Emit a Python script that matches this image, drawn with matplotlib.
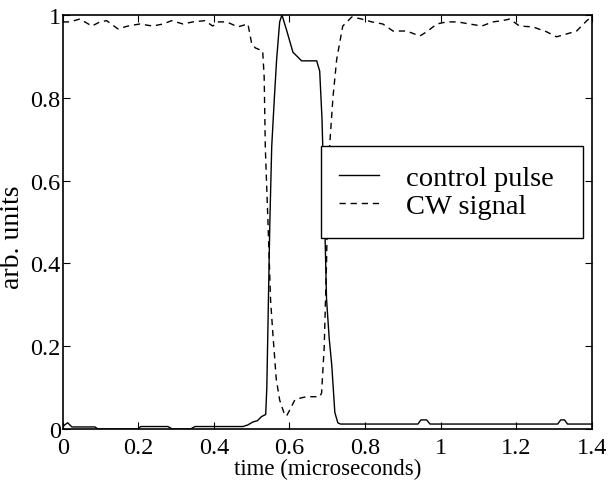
import matplotlib
matplotlib.use("Agg")
import matplotlib.pyplot as plt

plt.rcParams['font.family'] = ['Liberation Serif', 'DejaVu Serif']

# control pulse (solid)
t_pulse = [0.0, 0.005, 0.013, 0.024, 0.085, 0.093, 0.199, 0.206, 0.278, 0.29,
           0.338, 0.35, 0.477, 0.49, 0.503, 0.515, 0.526, 0.537, 0.540, 0.544,
           0.548, 0.553, 0.560, 0.566, 0.574, 0.580, 0.593, 0.609, 0.632, 0.672,
           0.680, 0.686, 0.692, 0.698, 0.705, 0.712, 0.720, 0.728, 0.735, 0.940,
           0.948, 0.963, 0.972, 1.31, 1.318, 1.328, 1.336, 1.4]
pulse = [0.005, 0.01, 0.015, 0.005, 0.005, 0.0, 0.0, 0.006, 0.006, 0.0,
         0.0, 0.006, 0.006, 0.01, 0.017, 0.02, 0.03, 0.035, 0.10, 0.30,
         0.50, 0.683, 0.80, 0.893, 0.983, 1.0, 0.961, 0.91, 0.889, 0.889,
         0.864, 0.75, 0.55, 0.315, 0.22, 0.153, 0.04, 0.015, 0.012, 0.012,
         0.022, 0.022, 0.012, 0.012, 0.022, 0.022, 0.012, 0.012]

# CW signal (dashed)
t_cw = [0.0, 0.019, 0.045, 0.077, 0.098, 0.116, 0.146, 0.172, 0.204, 0.238,
        0.265, 0.288, 0.318, 0.344, 0.376, 0.397, 0.410, 0.434, 0.463, 0.490,
        0.500, 0.510, 0.529, 0.533, 0.536, 0.543, 0.550, 0.556, 0.565, 0.574,
        0.585, 0.592, 0.603, 0.614, 0.630, 0.645, 0.680, 0.685, 0.692, 0.698,
        0.702, 0.706, 0.715, 0.725, 0.741, 0.765, 0.791, 0.818, 0.847, 0.874,
        0.910, 0.945, 0.963, 0.990, 1.016, 1.045, 1.077, 1.109, 1.138, 1.164,
        1.183, 1.209, 1.244, 1.281, 1.307, 1.334, 1.360, 1.387, 1.4]
cw = [0.983, 0.983, 0.99, 0.973, 0.983, 0.986, 0.966, 0.973, 0.978, 0.973,
      0.978, 0.986, 0.978, 0.983, 0.986, 0.973, 0.983, 0.983, 0.971, 0.978,
      0.930, 0.92, 0.913, 0.85, 0.68, 0.50, 0.31, 0.23, 0.12, 0.07,
      0.04, 0.031, 0.05, 0.07, 0.075, 0.078, 0.078, 0.087, 0.20, 0.40,
      0.60, 0.68, 0.80, 0.893, 0.973, 0.995, 0.99, 0.983, 0.978, 0.961,
      0.961, 0.949, 0.959, 0.978, 0.983, 0.983, 0.978, 0.973, 0.983, 0.986,
      0.990, 0.973, 0.971, 0.959, 0.947, 0.954, 0.961, 0.986, 0.995]

xticks = [0, 0.2, 0.4, 0.6, 0.8, 1, 1.2, 1.4]
xticklabels = ['0', '0.2', '0.4', '0.6', '0.8', '1', '1.2', '1.4']
yticks = [0, 0.2, 0.4, 0.6, 0.8, 1]
yticklabels = ['0', '0.2', '0.4', '0.6', '0.8', '1']

fig = plt.figure(figsize=(6.10, 4.81), dpi=100)
ax = fig.add_axes([0.103, 0.106, 0.867, 0.861])

ax.plot(t_pulse, pulse, color='black', lw=1.0, label='control pulse')
ax.plot(t_cw, cw, color='black', lw=1.0, dashes=(4.5, 3.5), label='CW signal')

ax.set_xlim(0, 1.4)
ax.set_ylim(0, 1)
ax.set_xticks(xticks)
ax.set_xticklabels(xticklabels)
ax.set_yticks(yticks)
ax.set_yticklabels(yticklabels)
ax.tick_params(direction='in', length=5, width=0.8, top=True, right=True,
               labelsize=17.5)
ax.tick_params(axis='y', pad=1.5)
ax.tick_params(axis='x', pad=6)
for s in ax.spines.values():
    s.set_linewidth(1.2)

ax.set_xlabel('time (microseconds)', fontsize=16.5, labelpad=-0.3)
ax.set_ylabel('arb. units', fontsize=20)
ax.yaxis.set_label_coords(-0.072, 0.465)

leg = ax.legend(loc='upper left', bbox_to_anchor=(0.488, 0.467, 0.495, 0.216),
                mode='expand', borderaxespad=0, fontsize=20.5, frameon=True,
                fancybox=False, edgecolor='black', handlelength=1.4,
                handletextpad=0.95, labelspacing=0.1, borderpad=0.65)
leg.get_frame().set_linewidth(1.0)
leg.get_frame().set_alpha(1)

fig.savefig('out.png', dpi=100)
